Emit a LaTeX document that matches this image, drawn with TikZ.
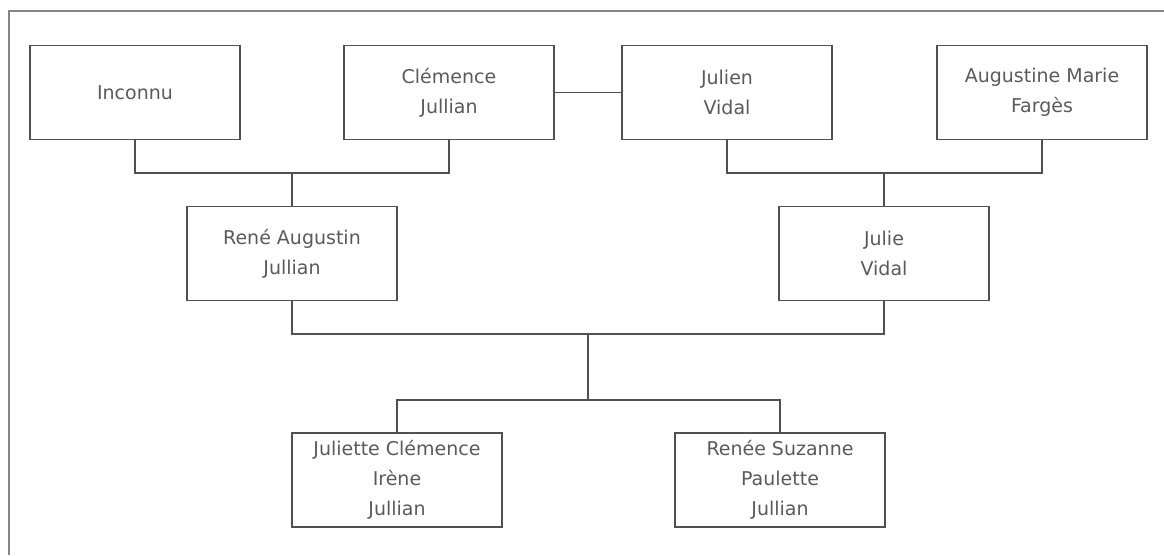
\documentclass[tikz,border=0pt]{standalone}
\usepackage{fontspec}
\setmainfont{DejaVu Sans}
\definecolor{trait}{HTML}{505050}
\definecolor{texte}{HTML}{5A5A5A}
\definecolor{cadre}{HTML}{858585}
\tikzset{
  personne/.style={draw=trait, line width=1.6pt, minimum width=210pt,
    minimum height=94pt, inner sep=0pt, align=center, text=texte,
    font=\fontsize{19}{30}\selectfont},
  lien/.style={draw=trait, line width=1.6pt}
}
\begin{document}
\begin{tikzpicture}[x=1pt,y=-1pt]

\useasboundingbox
(0,0)
rectangle
(1164,555);

% Cadre
\draw[cadre, line width=2pt]
(9,555)
--
(9,11)
--
(1164,11);

% Grands-parents
\node[personne] (inconnu)
at (135,92.5)
{Inconnu};

\node[personne] (clemence)
at (449,92.5)
{Clémence\\Jullian};

\node[personne] (julien)
at (727,92.5)
{Julien\\Vidal};

\node[personne] (augustine)
at (1042,92.5)
{Augustine Marie\\Fargès};

% Parents
\node[personne] (rene)
at (292,253.5)
{René Augustin\\Jullian};

\node[personne] (julie)
at (884,253.5)
{Julie\\Vidal};

% Enfants
\node[personne] (juliette)
at (397,480)
{Juliette Clémence\\Irène\\Jullian};

\node[personne] (renee)
at (780,480)
{Renée Suzanne\\Paulette\\Jullian};

% Liens
\coordinate (j1) at (292,173);
\coordinate (j2) at (884,173);
\coordinate (j3) at (588,334);
\coordinate (j4) at (588,400);

\draw[lien]
(clemence.east)
--
(julien.west);

\draw[lien]
(inconnu.south)
|- (j1)
-| (clemence.south);

\draw[lien]
(j1)
--
(rene.north);

\draw[lien]
(julien.south)
|- (j2)
-| (augustine.south);

\draw[lien]
(j2)
--
(julie.north);

\draw[lien]
(rene.south)
|- (j3)
-| (julie.south);

\draw[lien]
(j3)
--
(j4);

\draw[lien]
(juliette.north)
|- (j4)
-| (renee.north);

\end{tikzpicture}
\end{document}
